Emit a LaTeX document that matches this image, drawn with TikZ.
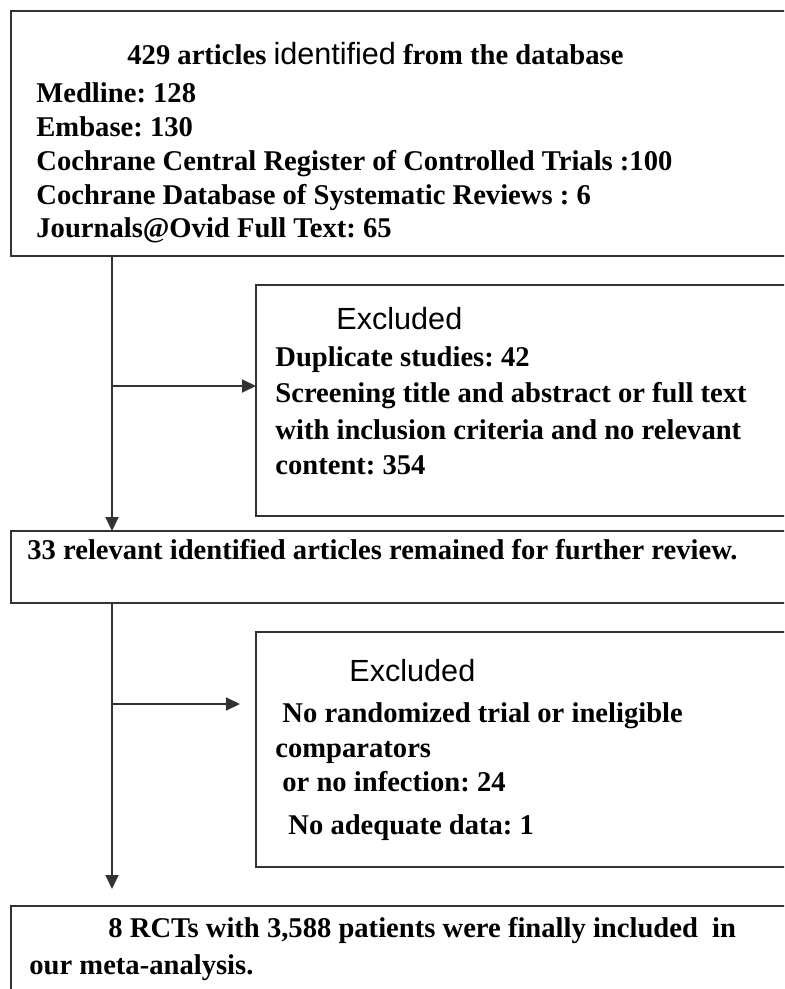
\documentclass[tikz,border=0pt]{standalone}
\usepackage{fontspec}
\setmainfont{Liberation Serif}
\setsansfont{Liberation Sans}
\usepackage{tikz}
\usetikzlibrary{arrows.meta}
\frenchspacing

\begin{document}
\begin{tikzpicture}[x=0.5pt,y=-0.5pt,
	box/.style={draw=black!80,line width=1.2pt,inner sep=0pt,outer sep=0pt,anchor=north west},
	txt/.style={anchor=mid west,inner sep=0pt,font=\fontsize{14.3}{17}\selectfont\bfseries},
	head/.style={anchor=mid west,inner sep=0pt,font=\fontsize{15.3}{17}\selectfont\sffamily},
	arr/.style={draw=black!80,line width=1pt,-{Triangle[length=7pt,width=6.5pt]}}]
				      \clip (0,0) rectangle (784,989);
				      \node[box,minimum width=394.5pt,minimum height=122.5pt] (db) at (11,11) {};
				      \node[box,minimum width=272pt,minimum height=115.5pt] (ex1) at (256,285) {};
				      \node[box,minimum width=394.5pt,minimum height=36pt] (rel) at (11,531) {};
				      \node[box,minimum width=272pt,minimum height=117.5pt] (ex2) at (256,632) {};
				      \node[box,minimum width=394.5pt,minimum height=47pt] (fin) at (11,906) {};
				      \node[txt] (dbhead) at (127,60) {429 articles {\fontsize{15.3}{17}\selectfont\sffamily\mdseries identified} from the database};
				      \node[txt] (medline) at (36,98) {Medline: 128};
				      \node[txt] (embase) at (36,132) {Embase: 130};
				      \node[txt] (central) at (36,166) {Cochrane Central Register of Controlled Trials :100};
				      \node[txt] (cdsr) at (36,200) {Cochrane Database of Systematic Reviews : 6};
				      \node[txt] (ovid) at (36,233) {Journals@Ovid Full Text: 65};
				      \node[head] (ex1head) at (336,325) {Excluded};
				      \node[txt] (dup) at (275,362) {Duplicate studies: 42};
				      \node[txt] (screen) at (275,398) {Screening title and abstract or full text};
				      \node[txt] (crit) at (275,435) {with inclusion criteria and no relevant};
				      \node[txt] (content) at (275,470) {content: 354};
				      \node[txt] (remain) at (27,555) {33 relevant identified articles remained for further review.};
				      \node[head] (ex2head) at (349,677) {Excluded};
				      \node[txt] (norand) at (282,718) {No randomized trial or ineligible};
				      \node[txt] (comp) at (275,753) {comparators};
				      \node[txt] (noinf) at (282,787) {or no infection: 24};
				      \node[txt] (nodata) at (288,830) {No adequate data: 1};
				      \node[txt] (final) at (108,933) {8 RCTs with 3,588 patients were finally included\ \ in};
				      \node[txt] (meta) at (29,970) {our meta-analysis.};
				      \coordinate (spine) at (112,0);
				      \coordinate (b1) at (112,386);
				      \coordinate (b2) at (112,704);
				      \draw[arr] (db.south -| spine) -- (rel.north -| spine);
				      \draw[arr] (b1) -- (b1 -| ex1.west);
				      \draw[arr,shorten >=8.5pt] (rel.south -| spine) -- (fin.north -| spine);
				      \draw[arr,shorten >=8pt] (b2) -- (b2 -| ex2.west);
			      \end{tikzpicture}
\end{document}
